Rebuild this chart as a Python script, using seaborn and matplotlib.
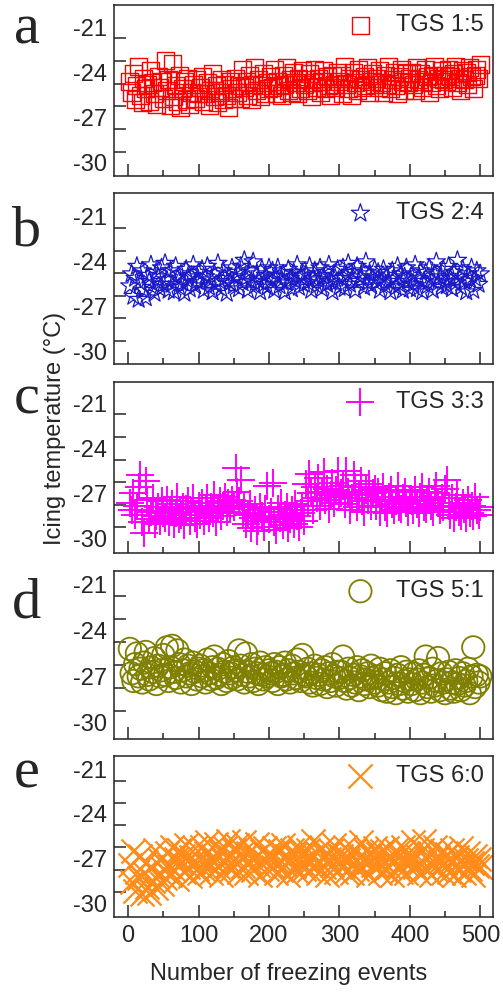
import numpy as np
import matplotlib
matplotlib.use("Agg")
import matplotlib.pyplot as plt
import seaborn as sns

# icing temperature (degC), one value every 2.5 events
tgs_15 = [
    -24.6, -25.3, -24.1, -25.8, -24.9, -23.6, -25.5, -26.0, -24.4, -25.1, -24.8, -25.9, -23.9, -24.7, -25.4, -26.1, -24.3, -25.0, -24.6, -25.7,
    -23.2, -25.2, -24.5, -26.2, -23.4, -25.6, -24.9, -25.9, -24.2, -26.3, -25.1, -24.6, -25.8, -24.4, -26.1, -25.3, -24.8, -25.7, -24.5, -25.4,
    -25.0, -24.3, -25.9, -25.4, -24.7, -26.2, -25.2, -24.1, -25.6, -24.9, -26.0, -25.3, -24.5, -25.8, -24.8, -25.5, -26.3, -24.6, -25.1, -25.7,
    -24.4, -25.3, -24.9, -25.7, -23.8, -25.0, -24.6, -25.5, -24.2, -25.8, -24.8, -23.7, -25.2, -24.5, -25.6, -24.9, -24.1, -25.4, -24.7, -25.1,
    -24.3, -25.0, -23.8, -25.4, -24.6, -24.9, -25.5, -24.2, -24.8, -23.7, -25.2, -24.5, -25.3, -24.0, -24.7, -25.4, -24.4, -25.1, -23.9, -24.8,
    -24.5, -25.2, -24.1, -25.6, -24.7, -23.8, -25.0, -24.4, -25.3, -24.6, -23.9, -25.1, -24.3, -24.9, -25.5, -24.2, -24.8, -25.0, -24.0, -24.6,
    -24.2, -25.4, -23.6, -24.8, -25.1, -24.4, -25.5, -24.0, -24.7, -25.2, -23.8, -24.5, -25.0, -24.3, -24.9, -23.7, -25.3, -24.6, -24.1, -24.8,
    -24.4, -25.0, -23.9, -24.7, -25.3, -24.2, -24.8, -23.6, -25.1, -24.5, -24.0, -24.9, -25.4, -24.3, -23.8, -24.6, -25.2, -24.1, -24.7, -24.4,
    -24.0, -24.8, -25.2, -23.7, -24.5, -24.1, -25.0, -24.6, -23.8, -24.3, -25.3, -24.7, -24.2, -23.6, -24.9, -24.4, -25.1, -23.9, -24.5, -24.2,
    -24.6, -23.8, -24.3, -25.0, -24.1, -23.6, -24.7, -24.4, -25.2, -23.9, -24.5, -24.0, -24.8, -23.7, -24.3, -25.1, -24.2, -23.8, -24.4, -23.5,
]
tgs_24 = [
    -25.6, -24.8, -26.3, -25.1, -24.3, -26.5, -25.4, -24.6, -25.9, -26.4, -24.9, -25.3, -24.2, -25.7, -26.1, -24.7, -25.0, -25.8, -24.4, -25.5,
    -24.1, -25.2, -25.9, -24.6, -25.5, -26.0, -24.3, -25.1, -25.7, -24.8, -25.4, -26.1, -24.5, -25.0, -25.8, -24.9, -24.2, -25.6, -25.3, -24.7,
    -25.4, -24.5, -25.9, -25.0, -24.3, -25.7, -25.2, -26.0, -24.8, -25.5, -24.1, -25.3, -25.8, -24.6, -25.1, -26.1, -24.9, -25.4, -24.4, -25.6,
    -25.0, -24.7, -25.8, -24.3, -25.4, -23.9, -25.1, -25.9, -24.6, -25.3, -24.0, -25.6, -24.8, -25.2, -26.0, -24.5, -25.5, -24.9, -25.7, -24.4,
    -25.3, -24.6, -25.9, -25.0, -24.4, -25.6, -25.2, -24.8, -26.0, -25.4, -24.5, -25.1, -25.8, -24.7, -25.3, -24.2, -25.7, -25.0, -24.9, -25.5,
    -24.8, -25.4, -24.3, -25.9, -25.1, -24.6, -25.6, -25.2, -24.4, -25.8, -25.0, -24.7, -25.5, -24.2, -25.3, -26.0, -24.9, -25.4, -24.5, -25.7,
    -25.1, -24.4, -25.8, -24.9, -24.1, -25.5, -25.2, -24.7, -25.9, -24.3, -25.3, -25.0, -24.6, -25.7, -24.0, -25.4, -24.8, -25.6, -25.1, -24.5,
    -25.4, -24.7, -25.9, -25.2, -24.5, -25.6, -24.9, -25.3, -26.0, -24.6, -25.1, -25.7, -24.3, -25.5, -24.8, -25.9, -25.0, -24.4, -25.3, -25.8,
    -24.9, -25.5, -24.2, -25.8, -25.1, -24.6, -26.0, -25.3, -24.7, -25.6, -24.4, -25.2, -25.9, -24.8, -24.0, -25.4, -25.0, -25.7, -24.5, -25.3,
    -25.6, -24.3, -25.1, -25.8, -24.7, -25.4, -23.9, -25.0, -25.7, -24.5, -25.3, -26.0, -24.8, -25.2, -24.4, -25.9, -25.1, -24.6, -25.5, -24.8,
]
tgs_33 = [
    -27.6, -28.1, -27.0, -28.4, -27.8, -26.6, -25.8, -28.9, -29.6, -26.2, -27.4, -28.7, -28.2, -27.3, -29.0, -28.5, -27.9, -28.8, -27.5, -28.3,
    -28.6, -27.4, -28.9, -28.1, -27.7, -29.0, -28.3, -27.2, -28.7, -28.4, -27.9, -29.1, -28.0, -27.5, -28.8, -28.2, -27.3, -28.6, -29.0, -27.8,
    -28.4, -27.6, -28.8, -28.1, -27.3, -28.6, -27.9, -28.3, -27.1, -28.9, -28.0, -27.5, -28.5, -27.8, -27.2, -28.2, -27.6, -28.0, -27.4, -27.9,
    -25.3, -26.9, -27.5, -26.1, -28.3, -27.8, -29.0, -28.4, -27.7, -29.3, -28.6, -28.1, -29.5, -28.8, -27.9, -28.5, -29.2, -28.0, -26.5, -28.7,
    -28.2, -26.3, -28.9, -29.4, -28.0, -28.6, -27.6, -29.1, -28.4, -27.9, -29.3, -28.7, -28.1, -29.0, -27.7, -28.5, -29.2, -28.3, -27.8, -28.8,
    -26.4, -27.5, -25.7, -27.0, -28.1, -26.6, -27.3, -26.0, -27.8, -26.9, -25.6, -27.4, -26.7, -28.0, -27.1, -26.3, -27.6, -26.8, -25.5, -27.2,
    -27.0, -26.5, -27.7, -25.5, -26.9, -28.1, -27.3, -25.8, -26.6, -27.9, -27.1, -26.2, -27.5, -28.2, -26.8, -27.4, -26.4, -27.8, -27.0, -26.7,
    -27.8, -26.9, -28.2, -27.4, -26.6, -27.9, -28.3, -27.2, -26.8, -27.7, -28.1, -27.5, -26.5, -27.9, -28.0, -27.3, -26.9, -27.6, -28.2, -27.4,
    -27.5, -28.1, -26.8, -27.7, -28.3, -27.2, -26.6, -27.9, -28.0, -27.4, -26.9, -27.8, -28.2, -27.0, -26.5, -27.6, -28.1, -27.3, -27.9, -26.7,
    -26.1, -27.8, -28.4, -27.3, -28.6, -27.9, -27.1, -28.2, -28.5, -27.6, -28.0, -28.6, -27.4, -28.3, -27.8, -28.5, -27.2, -28.1, -28.4, -27.9,
]
tgs_51 = [
    -25.2, -26.8, -27.3, -26.2, -25.5, -27.0, -26.5, -27.4, -26.1, -25.4, -26.9, -27.2, -26.4, -26.7, -25.8, -27.5, -26.3, -27.0, -26.6, -25.6,
    -26.9, -25.1, -27.3, -26.4, -25.0, -26.7, -27.1, -25.3, -26.2, -27.4, -26.6, -25.9, -27.0, -26.3, -26.8, -27.5, -26.1, -26.7, -27.2, -26.5,
    -26.3, -27.0, -26.6, -27.4, -25.9, -26.8, -27.2, -26.4, -25.7, -27.1, -26.5, -26.9, -27.5, -26.2, -26.7, -27.3, -26.0, -26.8, -27.1, -26.4,
    -26.6, -27.2, -25.3, -26.3, -26.9, -27.4, -25.5, -26.7, -27.0, -26.2, -27.3, -26.5, -26.8, -27.5, -26.1, -26.9, -27.2, -26.4, -27.0, -26.6,
    -26.8, -27.3, -26.2, -26.7, -27.5, -26.4, -27.0, -26.9, -26.1, -27.2, -26.6, -27.4, -26.3, -26.8, -27.1, -25.9, -26.7, -27.3, -25.6, -26.9,
    -27.0, -26.5, -27.4, -26.8, -27.6, -26.3, -27.1, -26.9, -27.5, -26.6, -27.2, -26.4, -27.7, -26.8, -27.3, -26.2, -27.0, -27.6, -26.7, -27.1,
    -26.7, -25.7, -27.3, -27.8, -26.5, -27.1, -27.6, -26.9, -27.4, -26.4, -27.9, -27.0, -26.6, -27.5, -27.2, -26.8, -27.7, -26.3, -27.1, -27.4,
    -27.0, -27.6, -26.5, -27.9, -27.2, -26.8, -28.0, -27.4, -26.6, -27.7, -27.1, -28.1, -26.9, -27.5, -26.4, -27.8, -27.3, -26.7, -28.0, -27.2,
    -27.5, -26.8, -27.9, -27.2, -26.6, -28.1, -27.4, -26.9, -25.7, -27.7, -27.1, -28.0, -26.5, -27.6, -27.3, -25.8, -27.9, -26.8, -27.4, -28.1,
    -27.2, -26.7, -27.8, -27.4, -28.0, -26.6, -27.5, -27.1, -27.9, -26.8, -27.6, -27.3, -26.5, -28.1, -27.0, -25.1, -27.7, -26.9, -27.4, -27.0,
]
tgs_60 = [
    -27.4, -28.6, -26.5, -29.2, -27.9, -28.3, -26.8, -29.4, -28.0, -27.2, -28.9, -29.3, -27.6, -28.5, -26.4, -29.0, -28.2, -27.1, -28.7, -27.7,
    -28.3, -26.6, -27.5, -28.1, -26.2, -27.8, -27.0, -28.4, -26.4, -27.3, -26.8, -27.9, -26.1, -27.6, -28.2, -26.9, -27.2, -26.3, -27.7, -28.0,
    -27.0, -26.2, -27.8, -26.6, -25.9, -27.4, -28.0, -26.8, -27.2, -26.0, -27.6, -26.5, -28.1, -27.1, -26.3, -27.5, -25.8, -26.9, -27.7, -26.4,
    -27.3, -26.1, -27.9, -26.7, -27.5, -25.9, -28.0, -26.6, -27.2, -26.4, -27.8, -26.9, -26.0, -27.4, -28.1, -26.5, -27.1, -26.3, -27.7, -26.8,
    -26.9, -27.6, -26.3, -28.0, -27.2, -26.5, -27.8, -26.1, -27.4, -26.8, -28.1, -27.0, -26.4, -27.5, -26.7, -27.9, -26.2, -27.3, -26.6, -27.7,
    -27.1, -26.4, -27.8, -26.9, -25.8, -27.5, -26.6, -28.0, -27.2, -26.3, -27.6, -26.8, -28.1, -27.0, -26.5, -27.4, -26.1, -27.9, -26.7, -27.3,
    -26.8, -27.5, -26.2, -27.9, -27.1, -26.6, -28.0, -27.3, -26.4, -27.7, -26.9, -25.9, -27.6, -27.0, -26.5, -28.1, -27.2, -26.7, -27.4, -26.3,
    -27.4, -26.7, -28.0, -26.5, -27.2, -27.8, -26.3, -27.6, -26.9, -28.1, -27.1, -26.4, -27.5, -26.8, -27.9, -26.2, -27.3, -28.0, -26.6, -27.0,
    -27.1, -25.9, -27.6, -26.8, -28.0, -27.3, -26.4, -25.8, -27.7, -27.0, -26.6, -28.1, -27.4, -26.2, -27.8, -26.9, -27.2, -26.5, -28.0, -27.3,
    -26.7, -27.9, -27.2, -26.4, -28.1, -27.5, -26.9, -27.8, -26.3, -27.4, -28.0, -27.1, -26.6, -27.7, -27.3, -28.1, -26.8, -27.5, -27.0, -27.6,
]

series = [tgs_15, tgs_24, tgs_33, tgs_51, tgs_60]
labels = ["TGS 1:5", "TGS 2:4", "TGS 3:3", "TGS 5:1", "TGS 6:0"]
letters = ["a", "b", "c", "d", "e"]
events = np.arange(1, len(tgs_15) + 1) * 2.5

colors = ["#FF0000", "#1A1AC8", "#FF00FF", "#808000", "#FF8C1A"]
markers = ["s", "*", "+", "o", "x"]
sizes = [150, 190, 380, 260, 300]
widths = [1.0, 0.9, 1.4, 1.3, 1.6]
filled = [True, True, False, True, False]

# axes boxes in pixels (top, bottom) and y limits per panel
W, H = 503, 994
boxes = [(5, 176), (193, 364), (382, 553), (571, 739), (756, 917)]
ylims = [(-30.87, -19.53), (-30.8, -19.42), (-30.95, -19.6), (-31.1, -20.1), (-30.93, -20.1)]
letter_base = [43, 245, 413, 617, 787]

sns.set_style("ticks")
plt.rcParams["font.family"] = ["Liberation Sans", "DejaVu Sans"]

fig = plt.figure(figsize=(W / 100, H / 100), dpi=100)
left, right = 114, 493

for i, vals in enumerate(series):
    top, bot = boxes[i]
    ax = fig.add_axes([left / W, 1 - bot / H, (right - left) / W, (bot - top) / H])
    kw = dict(marker=markers[i], s=sizes[i], linewidth=widths[i], color=colors[i], label=labels[i])
    if filled[i]:
        kw.update(facecolor="none", edgecolor=colors[i])
    sns.scatterplot(x=events, y=vals, ax=ax, legend=False, **kw)

    ax.set_xlim(-20, 518)
    ax.set_ylim(*ylims[i])
    ax.set_xticks(range(0, 501, 100))
    ax.set_xticks(range(50, 501, 100), minor=True)
    ax.set_yticks([-21, -24, -27, -30])
    ax.set_yticks([-21.75, -23.25, -24.75, -26.25, -27.75, -29.25], minor=True)
    ax.tick_params(axis="x", which="major", direction="in", length=9, width=1.1, labelsize=17, pad=6)
    ax.tick_params(axis="x", which="minor", direction="in", length=4.5, width=1.1)
    ax.tick_params(axis="y", which="major", length=0, labelsize=17, pad=5)
    ax.tick_params(axis="y", which="minor", direction="in", length=8.5, width=1.1)
    ax.set_yticklabels(["-21", "-24", "-27", "-30"])
    if i < 4:
        ax.set_xticklabels([])
    ax.set_xlabel("")
    ax.set_ylabel("")
    for sp in ax.spines.values():
        sp.set_visible(True)
        sp.set_linewidth(1.1)
        sp.set_color("#222222")

    ax.legend(loc="upper right", frameon=False, fontsize=17, scatterpoints=1,
              handlelength=1.0, handletextpad=1.0, borderaxespad=0.2, borderpad=0.2)

    fig.text(27 / W, 1 - letter_base[i] / H, letters[i], ha="center", va="baseline",
             fontsize=42, family=["Liberation Serif", "DejaVu Serif"])

fig.text(55 / W, 1 - 428 / H, "Icing temperature (°C)", rotation=90,
         ha="center", va="center", fontsize=17)
fig.text(289 / W, 1 - 974 / H, "Number of freezing events", ha="center", va="center", fontsize=17)

fig.savefig("out.png", dpi=100)
